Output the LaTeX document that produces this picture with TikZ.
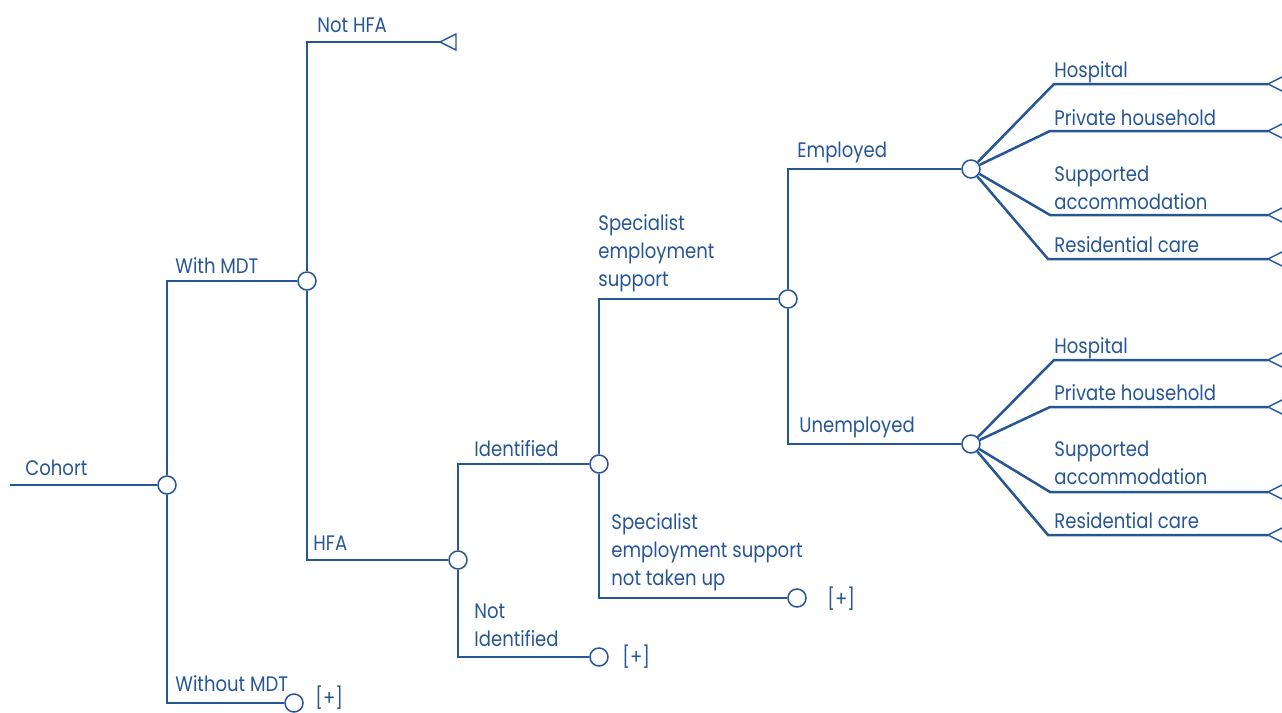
\documentclass[tikz,border=0pt]{standalone}
\usepackage{fontspec}
\setmainfont[FakeStretch=0.86]{Poppins}
\definecolor{tree}{RGB}{38,86,150}
\begin{document}
\begin{tikzpicture}[x=0.5pt,y=-0.5pt,
  br/.style={draw=tree, line width=1.25pt},
  chance/.style={circle, draw=tree, fill=white, line width=0.75pt, minimum size=9pt, inner sep=0pt},
  lbl/.style={text=tree, inner sep=0pt, anchor=west, font=\fontsize{10.5}{14}\selectfont, align=left},
  tri/.style={draw=tree, fill=white, line width=0.7pt, line join=miter}
]
\useasboundingbox (0,0) rectangle (1282,713);

% chance nodes
\node[chance] (A) at (167,485) {};
\node[chance] (B) at (307,281) {};
\node[chance] (C) at (458,560) {};
\node[chance] (D) at (599,464) {};
\node[chance] (E) at (788,299) {};
\node[chance] (F) at (971,169) {};
\node[chance] (G) at (971,444) {};
% terminal circles
\node[chance] (W) at (294,703) {};
\node[chance] (NI) at (599,657) {};
\node[chance] (NT) at (797,598) {};

% free ends
\coordinate (start) at (10,485);
\coordinate (nhfa) at (440,42);
\coordinate (F1b) at (1054,84);  \coordinate (F1) at (1268,84);
\coordinate (F2b) at (1050,131); \coordinate (F2) at (1268,131);
\coordinate (F3b) at (1050,215); \coordinate (F3) at (1268,215);
\coordinate (F4b) at (1048,259); \coordinate (F4) at (1268,259);
\coordinate (G1b) at (1054,360); \coordinate (G1) at (1268,360);
\coordinate (G2b) at (1050,407); \coordinate (G2) at (1268,407);
\coordinate (G3b) at (1050,492); \coordinate (G3) at (1268,492);
\coordinate (G4b) at (1048,535); \coordinate (G4) at (1268,535);

% connectors
\draw[br] (start) -- (A);
\draw[br] (A) -- (A |- B) -- (B);
\draw[br] (A) -- (A |- W) -- (W);
\draw[br] (B) -- (B |- nhfa) -- (nhfa);
\draw[br] (B) -- (B |- C) -- (C);
\draw[br] (C) -- (C |- D) -- (D);
\draw[br] (C) -- (C |- NI) -- (NI);
\draw[br] (D) -- (D |- E) -- (E);
\draw[br] (D) -- (D |- NT) -- (NT);
\draw[br] (E) -- (E |- F) -- (F);
\draw[br] (E) -- (E |- G) -- (G);
\foreach \i in {1,2,3,4}{
  \draw[br] (F) -- (F\i b) -- (F\i);
  \draw[br] (G) -- (G\i b) -- (G\i);
}

% terminal triangles
\draw[tri] (nhfa) -- ++(16,-8) -- ++(0,16) -- cycle;
\foreach \t in {F1,F2,F3,F4,G1,G2,G3,G4}{
  \draw[tri] (\t) -- ++(16,-8) -- ++(0,16) -- cycle;
}

% labels
\node[lbl] (lCohort) at (25,468) {Cohort};
\node[lbl] (lWith) at (175,266) {With MDT};
\node[lbl] (lWithout) at (175,684) {Without MDT};
\node[lbl] (lNotHFA) at (317,25) {Not HFA};
\node[lbl] (lHFA) at (313,543) {HFA};
\node[lbl] (lIdent) at (474,449) {Identified};
\node[lbl] (lNotIdent) at (474,625) {Not\\Identified};
\node[lbl] (lSES) at (598,253) {Specialist\\employment\\support};
\node[lbl] (lNT) at (611,552) {Specialist\\employment support\\not taken up};
\node[lbl] (lEmp) at (797,152) {Employed};
\node[lbl] (lUnemp) at (799,427) {Unemployed};
\node[lbl] (lF1) at (1054,72) {Hospital};
\node[lbl] (lF2) at (1054,118) {Private household};
\node[lbl] (lF3) at (1054,187.5) {Supported\\accommodation};
\node[lbl] (lF4) at (1054,245) {Residential care};
\node[lbl] (lG1) at (1054,348) {Hospital};
\node[lbl] (lG2) at (1054,393) {Private household};
\node[lbl] (lG3) at (1054,462.5) {Supported\\accommodation};
\node[lbl] (lG4) at (1054,521) {Residential care};
\node[lbl] (p1) at (315,698) {[+]};
\node[lbl] (p2) at (622,657) {[+]};
\node[lbl] (p3) at (827,599) {[+]};
\end{tikzpicture}
\end{document}
